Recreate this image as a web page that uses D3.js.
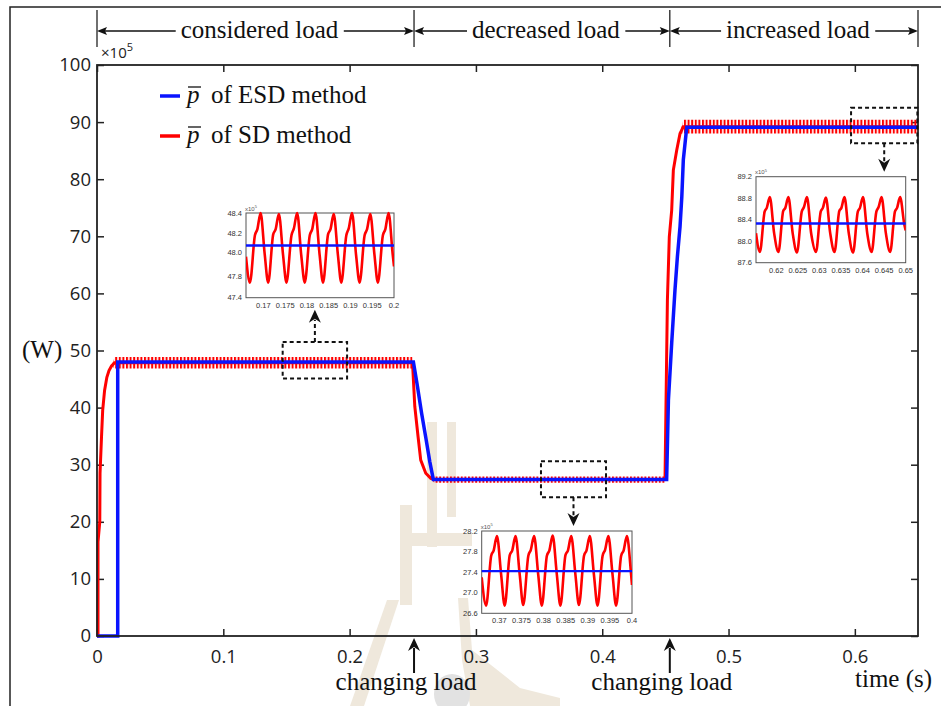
<!DOCTYPE html>
<html>
<head>
<meta charset="utf-8">
<script src="https://cdn.jsdelivr.net/npm/d3@7"></script>
<style>
  body { margin: 0; background: #fff; }
  svg { display: block; }
</style>
</head>
<body>
<div id="chart"></div>
<script>
// ---- data (power in x10^5 W, time in s) ----
const xTicks = [0, 0.1, 0.2, 0.3, 0.4, 0.5, 0.6];
const yTicks = [0, 10, 20, 30, 40, 50, 60, 70, 80, 90, 100];

const segmentNames = ["considered load", "decreased load", "increased load"];
const segmentBounds = [0, 0.251, 0.4535, 0.65];
const loadChanges = [0.251, 0.4535];

const blueTime  = [0, 0.0164, 0.0164, 0.2505, 0.2535, 0.257, 0.2605, 0.2635, 0.2663, 0.451, 0.4524, 0.455, 0.4576, 0.4595, 0.4616, 0.463, 0.4642, 0.4669, 0.65];
const bluePower = [0, 0, 48.0, 48.0, 44.0, 39.0, 34.5, 30.5, 27.4, 27.4, 41.3, 51.3, 60.6, 66.4, 71.7, 76.9, 83.4, 89.1, 89.1];

const redTime   = [0, 0.0008, 0.0008, 0.0022, 0.0024, 0.0036, 0.0045, 0.006, 0.0078, 0.0095, 0.0115, 0.014, 0.2498, 0.2516, 0.2542, 0.2563, 0.2603, 0.2643, 0.267, 0.4497, 0.4505, 0.4516, 0.4531, 0.455, 0.4563, 0.459, 0.4616, 0.4642, 0.65];
const redPower  = [0, 0, 16.5, 20.0, 28.5, 35.0, 39.5, 43.0, 45.3, 46.5, 47.3, 47.85, 47.85, 40.2, 34.9, 30.8, 28.5, 27.6, 27.4, 27.4, 40.8, 58.8, 69.9, 74.6, 81.6, 85.1, 88.0, 89.2, 89.2];
const redRipple = [0, 0, 0, 0, 0, 0, 0, 0, 0, 0, 0, 1.0, 1.0, 0, 0, 0, 0, 0, 0.55, 0.55, 0, 0, 0, 0, 0, 0, 0, 1.2, 1.2];

// zoomed windows [t0, t1, pLow, pHigh]
const zoomBoxes = [[0.147, 0.198, 45.1, 51.5], [0.3515, 0.403, 24.3, 30.6], [0.597, 0.6495, 86.3, 92.5]];

const inset1Time = [0.166,
  0.1669, 0.16805, 0.1686, 0.16935, 0.1703,
  0.1711, 0.17225, 0.1728, 0.17355, 0.1745,
  0.1753, 0.17645, 0.177, 0.17775, 0.1787,
  0.1795, 0.18065, 0.1812, 0.18195, 0.1829,
  0.1837, 0.18485, 0.1854, 0.18615, 0.1871,
  0.1879, 0.18905, 0.1896, 0.19035, 0.1913,
  0.1921, 0.19325, 0.1938, 0.19455, 0.1955,
  0.1963, 0.19745, 0.198, 0.19875, 0.1997, 0.2];
const inset1Red = [47.96,
  47.68, 48.18, 48.24, 48.40, 47.98,
  47.68, 48.19, 48.24, 48.39, 47.98,
  47.68, 48.18, 48.25, 48.40, 47.97,
  47.68, 48.18, 48.24, 48.40, 47.98,
  47.68, 48.19, 48.24, 48.39, 47.98,
  47.68, 48.18, 48.25, 48.40, 47.97,
  47.68, 48.18, 48.24, 48.39, 47.98,
  47.68, 48.18, 48.24, 48.40, 47.98, 47.88];
const inset1Blue = 48.07;
const inset1XTicks = [0.17, 0.175, 0.18, 0.185, 0.19, 0.195, 0.2];
const inset1YTicks = [47.4, 47.8, 48.0, 48.2, 48.4];

const inset2Time = [0.366,
  0.367, 0.36815, 0.3687, 0.36945, 0.3704,
  0.3712, 0.37235, 0.3729, 0.37365, 0.3746,
  0.3754, 0.37655, 0.3771, 0.37785, 0.3788,
  0.3796, 0.38075, 0.3813, 0.38205, 0.383,
  0.3838, 0.38495, 0.3855, 0.38625, 0.3872,
  0.388, 0.38915, 0.3897, 0.39045, 0.3914,
  0.3922, 0.39335, 0.3939, 0.39465, 0.3956,
  0.3964, 0.39755, 0.3981, 0.39885, 0.3998, 0.4];
const inset2Red = [27.3,
  26.75, 27.72, 27.82, 28.10, 27.35,
  26.75, 27.73, 27.82, 28.10, 27.35,
  26.76, 27.72, 27.83, 28.10, 27.34,
  26.75, 27.72, 27.82, 28.11, 27.35,
  26.75, 27.73, 27.82, 28.10, 27.35,
  26.76, 27.72, 27.82, 28.10, 27.34,
  26.75, 27.72, 27.83, 28.10, 27.35,
  26.75, 27.72, 27.82, 28.10, 27.35, 27.15];
const inset2Blue = 27.42;
const inset2XTicks = [0.37, 0.375, 0.38, 0.385, 0.39, 0.395, 0.4];
const inset2YTicks = [26.6, 27.0, 27.4, 27.8, 28.2];

const inset3Time = [0.6153,
  0.6162, 0.6173, 0.6178, 0.6185, 0.6195,
  0.6205, 0.6216, 0.6221, 0.6228, 0.6238,
  0.6248, 0.6259, 0.6264, 0.6271, 0.6281,
  0.6292, 0.6303, 0.6308, 0.6315, 0.6325,
  0.6335, 0.6346, 0.6351, 0.6358, 0.6368,
  0.6378, 0.6389, 0.6394, 0.6401, 0.6411,
  0.6421, 0.6432, 0.6437, 0.6444, 0.6454,
  0.6464, 0.6475, 0.648, 0.6487, 0.6497, 0.65];
const inset3Red = [88.15,
  87.80, 88.55, 88.62, 88.82, 88.15,
  87.80, 88.56, 88.62, 88.82, 88.15,
  87.79, 88.55, 88.63, 88.82, 88.14,
  87.80, 88.55, 88.62, 88.81, 88.15,
  87.80, 88.56, 88.62, 88.82, 88.15,
  87.79, 88.55, 88.62, 88.82, 88.14,
  87.80, 88.55, 88.63, 88.82, 88.15,
  87.80, 88.55, 88.62, 88.82, 88.30, 88.20];
const inset3Blue = 88.33;
const inset3XTicks = [0.62, 0.625, 0.63, 0.635, 0.64, 0.645, 0.65];
const inset3YTicks = [87.6, 88.0, 88.4, 88.8, 89.2];

// ---- layout ----
const W = 941, H = 706;
const plot = { left: 97, right: 918, top: 65, bottom: 636 };
const serif = "'Liberation Serif', 'Times New Roman', serif";
const sans = "'Open Sans', 'DejaVu Sans', sans-serif";
const RED = "#ff0000", BLUE = "#0a14ff";

const svg = d3.select("#chart").append("svg")
    .attr("width", W).attr("height", H);

const defs = svg.append("defs");
const pat = defs.append("pattern")
    .attr("id", "ripple")
    .attr("patternUnits", "userSpaceOnUse")
    .attr("width", 3.6).attr("height", 20);
pat.append("rect").attr("width", 2).attr("height", 20).attr("fill", RED);

// faint watermark of the source document
const wm = svg.append("g").attr("fill", "#efe8dc");
wm.append("rect").attr("x", 427).attr("y", 422).attr("width", 10).attr("height", 125);
wm.append("rect").attr("x", 447).attr("y", 422).attr("width", 9).attr("height", 95);
wm.append("rect").attr("x", 400).attr("y", 533).attr("width", 72).attr("height", 13);
wm.append("rect").attr("x", 400).attr("y", 505).attr("width", 12).attr("height", 100);
wm.append("path").attr("d", "M387,600 L399,600 L364,706 L350,706 Z");
wm.append("path").attr("d", "M458,598 L468,598 L472,650 L520,688 L560,698 L560,706 L470,706 L462,660 Z");
svg.append("ellipse").attr("cx", 452).attr("cy", 694).attr("rx", 18).attr("ry", 20).attr("fill", "#e2e2e2");

// outer document frame
svg.append("path").attr("d", "M10,706 L10,7 L941,7")
    .attr("fill", "none").attr("stroke", "#222").attr("stroke-width", 1.5);

// ---- main scales and axes ----
const x = d3.scaleLinear().domain([0, 0.65]).range([plot.left, plot.right]);
const y = d3.scaleLinear().domain([0, 100]).range([plot.bottom, plot.top]);

function styleAxis(g, labels) {
    g.select(".domain").remove();
    g.selectAll(".tick line").attr("stroke", "#222").attr("stroke-width", 1.5);
    g.selectAll(".tick text").attr("fill", "#222")
        .style("font-family", sans).style("font-size", "18.5px");
    if (!labels) g.selectAll(".tick text").remove();
}

svg.append("g").attr("transform", `translate(0,${plot.bottom})`)
    .call(d3.axisBottom(x).tickValues(xTicks).tickSize(-7).tickPadding(14).tickFormat(d => String(d)))
    .call(g => styleAxis(g, true));
svg.append("g").attr("transform", `translate(0,${plot.top})`)
    .call(d3.axisTop(x).tickValues(xTicks).tickSize(-7))
    .call(g => styleAxis(g, false));
svg.append("g").attr("transform", `translate(${plot.left},0)`)
    .call(d3.axisLeft(y).tickValues(yTicks).tickSize(-7).tickPadding(6).tickFormat(d => String(d)))
    .call(g => styleAxis(g, true));
svg.append("g").attr("transform", `translate(${plot.right},0)`)
    .call(d3.axisRight(y).tickValues(yTicks).tickSize(-7))
    .call(g => styleAxis(g, false));

// ---- curves ----
const redData = redTime.map((t, i) => ({ t, p: redPower[i], r: redRipple[i] }));
const blueData = blueTime.map((t, i) => ({ t, p: bluePower[i] }));

svg.append("path").datum(redData)
    .attr("fill", "url(#ripple)")
    .attr("d", d3.area().x(d => x(d.t)).y0(d => y(d.p - d.r)).y1(d => y(d.p + d.r)));
svg.append("path").datum(redData)
    .attr("fill", "none").attr("stroke", RED).attr("stroke-width", 3)
    .attr("d", d3.line().x(d => x(d.t)).y(d => y(d.p)));
svg.append("path").datum(blueData)
    .attr("fill", "none").attr("stroke", BLUE).attr("stroke-width", 3.5)
    .attr("d", d3.line().x(d => x(d.t)).y(d => y(d.p)));

// plot frame
svg.append("rect")
    .attr("x", plot.left).attr("y", plot.top)
    .attr("width", plot.right - plot.left).attr("height", plot.bottom - plot.top)
    .attr("fill", "none").attr("stroke", "#222").attr("stroke-width", 1.8);

// x10^5 multiplier
svg.append("text").attr("x", 101).attr("y", 58)
    .style("font-family", sans).style("font-size", "15px").attr("fill", "#222")
    .text("\u00d710")
    .append("tspan").attr("dy", -7).style("font-size", "11px").text("5");

// ---- insets ----
const insets = [
    { time: inset1Time, red: inset1Red, blue: inset1Blue, xTicks: inset1XTicks, yTicks: inset1YTicks,
      dom: [0.166, 0.2], box: { x0: 246, x1: 394, y0: 213, y1: 297.7 }, yFrac: [1, 0.745, 0.459, 0.242, 0] },
    { time: inset2Time, red: inset2Red, blue: inset2Blue, xTicks: inset2XTicks, yTicks: inset2YTicks,
      dom: [0.366, 0.4], box: { x0: 481.7, x1: 632, y0: 531, y1: 613.3 } },
    { time: inset3Time, red: inset3Red, blue: inset3Blue, xTicks: inset3XTicks, yTicks: inset3YTicks,
      dom: [0.6153, 0.65], box: { x0: 756, x1: 905.7, y0: 176.7, y1: 262.7 } }
];

insets.forEach((ins, k) => {
    const b = ins.box;
    const ix = d3.scaleLinear().domain(ins.dom).range([b.x0, b.x1]);
    const fr = ins.yFrac || ins.yTicks.map((v, i) => 1 - i / (ins.yTicks.length - 1));
    const iy = d3.scaleLinear().domain(ins.yTicks).range(fr.map(f => b.y0 + f * (b.y1 - b.y0)));
    const g = svg.append("g");

    g.append("rect").attr("x", b.x0).attr("y", b.y0)
        .attr("width", b.x1 - b.x0).attr("height", b.y1 - b.y0)
        .attr("fill", "#fff").attr("stroke", "#555").attr("stroke-width", 1);

    const clipId = "clip" + k;
    defs.append("clipPath").attr("id", clipId).append("rect")
        .attr("x", b.x0).attr("y", b.y0 - 2).attr("width", b.x1 - b.x0).attr("height", b.y1 - b.y0 + 4);

    g.append("path").datum(ins.time.map((t, i) => [t, ins.red[i]]))
        .attr("clip-path", `url(#${clipId})`)
        .attr("fill", "none").attr("stroke", RED).attr("stroke-width", 2.6).attr("stroke-linejoin", "round")
        .attr("d", d3.line().curve(d3.curveMonotoneX).x(d => ix(d[0])).y(d => iy(d[1])));
    g.append("line")
        .attr("x1", ix(ins.dom[0])).attr("x2", ix(ins.dom[1]))
        .attr("y1", iy(ins.blue)).attr("y2", iy(ins.blue))
        .attr("stroke", BLUE).attr("stroke-width", 2.4);

    g.selectAll(".ytl").data(ins.yTicks).enter().append("text")
        .attr("x", b.x0 - 4).attr("y", d => iy(d)).attr("dy", "0.35em")
        .attr("text-anchor", "end").attr("fill", "#333")
        .style("font-family", "'Liberation Sans', sans-serif").style("font-size", "7.5px")
        .text(d => d.toFixed(1));
    g.selectAll(".xtl").data(ins.xTicks).enter().append("text")
        .attr("x", d => ix(d)).attr("y", b.y1 + 10)
        .attr("text-anchor", "middle").attr("fill", "#333")
        .style("font-family", "'Liberation Sans', sans-serif").style("font-size", "7.5px")
        .text(d => String(d));
    g.append("text").attr("x", b.x0 - 1).attr("y", b.y0 - 2.5)
        .attr("fill", "#555").style("font-family", "'Liberation Sans', sans-serif").style("font-size", "6px")
        .text("x10").append("tspan").attr("dy", -2.5).style("font-size", "4px").text("5");
});

// ---- dashed zoom windows and their connectors ----
function dartPath(cx, tipY, dir) {
    // dir = 1 points down, -1 points up
    return `M${cx},${tipY} L${cx - 6},${tipY - dir * 13} L${cx},${tipY - dir * 9} L${cx + 6},${tipY - dir * 13} Z`;
}

zoomBoxes.forEach((zb, k) => {
    const x0 = x(zb[0]), x1 = x(zb[1]), yt = y(zb[3]), yb = y(zb[2]);
    svg.append("rect").attr("x", x0).attr("y", yt).attr("width", x1 - x0).attr("height", yb - yt)
        .attr("fill", "none").attr("stroke", "#111").attr("stroke-width", 2).attr("stroke-dasharray", "4,3");
    const cx = (x0 + x1) / 2;
    const b = insets[k].box;
    let from, tip, dir;
    if (b.y1 < yt) { from = yt; tip = b.y1 + 12; dir = -1; }
    else { from = yb; tip = b.y0 - 5; dir = 1; }
    svg.append("line").attr("x1", cx).attr("x2", cx).attr("y1", from).attr("y2", tip - dir * 10)
        .attr("stroke", "#111").attr("stroke-width", 2).attr("stroke-dasharray", "4,3");
    svg.append("path").attr("d", dartPath(cx, tip, dir)).attr("fill", "#111");
});

// ---- legend ----
const legend = [{ color: BLUE, label: "of ESD method", y: 96 }, { color: RED, label: "of SD method", y: 136 }];
legend.forEach(l => {
    svg.append("line").attr("x1", 160).attr("x2", 180).attr("y1", l.y).attr("y2", l.y)
        .attr("stroke", l.color).attr("stroke-width", 3.5);
    svg.append("text").attr("x", 187).attr("y", l.y + 7)
        .style("font-family", serif).style("font-size", "25px").style("font-style", "italic")
        .attr("fill", "#111").text("p");
    svg.append("line").attr("x1", 188).attr("x2", 201).attr("y1", l.y - 9).attr("y2", l.y - 9)
        .attr("stroke", "#111").attr("stroke-width", 1.3);
    svg.append("text").attr("x", 211).attr("y", l.y + 7)
        .style("font-family", serif).style("font-size", "25px")
        .attr("fill", "#111").text(l.label);
});

// ---- load segment annotation on top ----
const annY = 31;
segmentBounds.forEach(t => {
    svg.append("line").attr("x1", x(t)).attr("x2", x(t)).attr("y1", 10).attr("y2", 47)
        .attr("stroke", "#222").attr("stroke-width", 1.3);
});
function hArrow(xFrom, xTip) {
    const dir = xTip > xFrom ? 1 : -1;
    svg.append("line").attr("x1", xFrom).attr("x2", xTip - dir * 6).attr("y1", annY).attr("y2", annY)
        .attr("stroke", "#111").attr("stroke-width", 1.3);
    svg.append("path")
        .attr("d", `M${xTip},${annY} L${xTip - dir * 10},${annY - 4} L${xTip - dir * 8},${annY} L${xTip - dir * 10},${annY + 4} Z`)
        .attr("fill", "#111");
}
segmentNames.forEach((name, i) => {
    const a = x(segmentBounds[i]), b = x(segmentBounds[i + 1]);
    const txt = svg.append("text").attr("x", (a + b) / 2 + 4).attr("y", 38)
        .attr("text-anchor", "middle")
        .style("font-family", serif).style("font-size", "25px").attr("fill", "#111")
        .text(name);
    const bb = txt.node().getBBox();
    hArrow(bb.x - 5, a);
    hArrow(bb.x + bb.width + 5, b);
});

// ---- changing-load arrows under the axis ----
loadChanges.forEach(t => {
    const cx = x(t);
    svg.append("line").attr("x1", cx).attr("x2", cx).attr("y1", 673).attr("y2", 648)
        .attr("stroke", "#111").attr("stroke-width", 2);
    svg.append("path").attr("d", dartPath(cx, 638, -1)).attr("fill", "#111");
    svg.append("text").attr("x", cx - 8).attr("y", 690).attr("text-anchor", "middle")
        .style("font-family", serif).style("font-size", "25px").attr("fill", "#111")
        .text("changing load");
});

// axis titles
svg.append("text").attr("x", 22).attr("y", 358)
    .style("font-family", serif).style("font-size", "25px").attr("fill", "#111")
    .text("(W)");
svg.append("text").attr("x", 855).attr("y", 687)
    .style("font-family", serif).style("font-size", "25px").attr("fill", "#111")
    .text("time (s)");
</script>
</body>
</html>
